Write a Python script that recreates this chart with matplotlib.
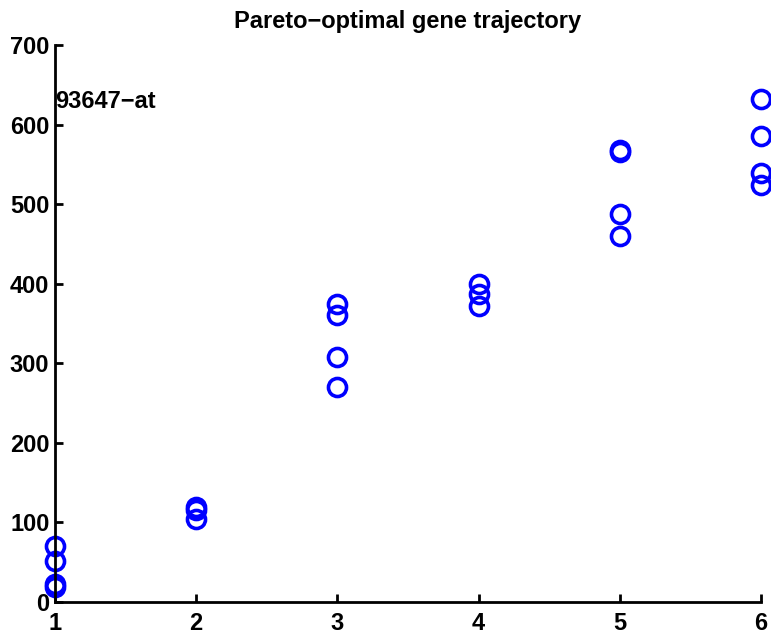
import numpy as np
import matplotlib.pyplot as plt

plt.rcParams['font.family'] = ['Liberation Sans', 'DejaVu Sans']
plt.rcParams['font.weight'] = 'bold'

# trajectory points
etapa = [1, 1, 1, 1, 2, 2, 2, 3, 3, 3, 3, 4, 4, 4, 5, 5, 5, 5, 6, 6, 6, 6]
valor = [70, 51, 22, 19, 120, 116, 104, 375, 361, 308, 270, 400, 387, 372,
         568, 566, 488, 460, 632, 585, 539, 524]
xticks = [1, 2, 3, 4, 5, 6]
yticks = [0, 100, 200, 300, 400, 500, 600, 700]
gen = '93647\u2212at'

fig = plt.figure(figsize=(7.71, 6.39), dpi=100)
ax = fig.add_axes([0.0713, 0.0579, 0.9157, 0.8717])
ax.plot(etapa, valor, 'o', mfc='none', mec='#0000ff', ms=13, mew=2.6,
        clip_on=False)
ax.set_xlim(1, 6)
ax.set_ylim(0, 700)
ax.set_xticks(xticks)
ax.set_yticks(yticks)
ax.tick_params(direction='in', length=6, width=2, labelsize=17)
ax.tick_params(axis='x', pad=7)
ax.tick_params(axis='y', pad=4)
for s in ['top', 'right']:
    ax.spines[s].set_visible(False)
for s in ['left', 'bottom']:
    ax.spines[s].set_linewidth(2)
ax.text(1, 629, gen, fontsize=17, fontweight='bold', va='center', ha='left')
ax.set_title('Pareto\u2212optimal gene trajectory', fontsize=17,
             fontweight='bold', pad=12)
fig.savefig('out.png', dpi=100)
